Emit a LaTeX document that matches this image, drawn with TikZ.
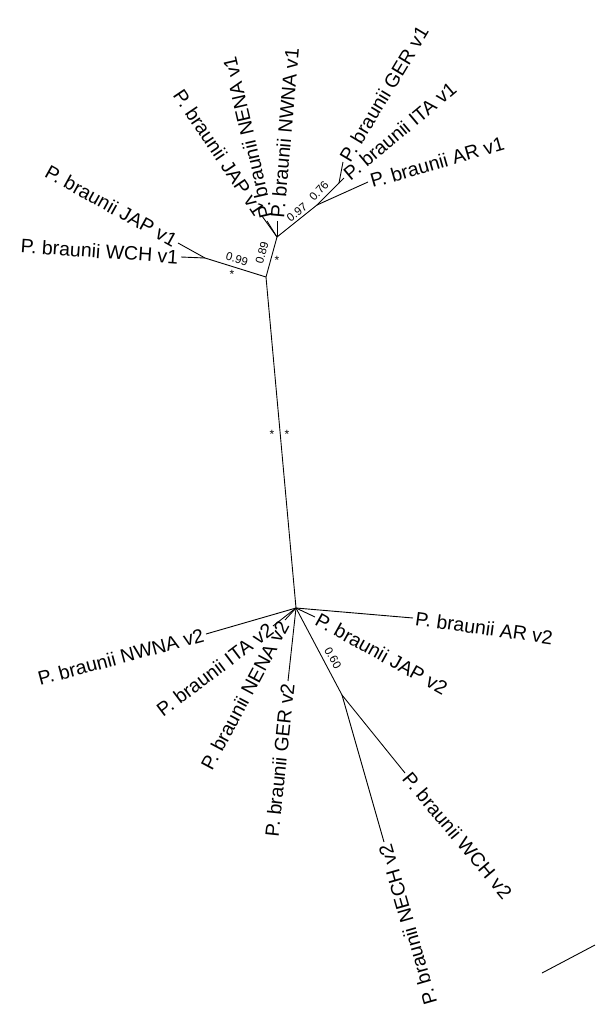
\documentclass[tikz,border=0pt]{standalone}
\usepackage{fontspec}
\setmainfont{Liberation Sans}
\usepackage{tikz}

\tikzset{
  ramo/.style={line width=0.9pt},
  rotulo/.style={font=\fontsize{19.5}{22}\selectfont, inner sep=2.5pt},
  suporte/.style={font=\fontsize{11.5}{13}\selectfont, inner sep=0pt},
  asterisco/.style={font=\fontsize{12}{13}\selectfont, inner sep=0pt}
}

\begin{document}
\begin{tikzpicture}[x=1pt, y=-1pt] %coordenadas em pixels, eixo y para baixo

\useasboundingbox (0,0) rectangle (595,1015);

%----------------------------------------------------
%Posicionar os nós internos da árvore
%----------------------------------------------------
\coordinate (U) at (266,277); %raiz do grupo v1
\coordinate (L) at (296,608); %raiz do grupo v2
\coordinate (A) at (205,258); %JAP v1 + WCH v1
\coordinate (B) at (277,237);
\coordinate (C) at (317,205);
\coordinate (D) at (339,183); %GER v1 + ITA v1
\coordinate (E) at (342,695); %NECH v2 + WCH v2

%----------------------------------------------------
%Pontas dos ramos terminais
%----------------------------------------------------
\coordinate (tJAP1a) at (178,243);
\coordinate (tWCH1) at (181,257);
\coordinate (tJAP1b) at (262,216);
\coordinate (tNENA1) at (267,221);
\coordinate (tNWNA1) at (277,221);
\coordinate (tAR1) at (368,182);
\coordinate (tITA1) at (344,178);
\coordinate (tGER1) at (343,162);
\coordinate (tAR2) at (413,618);
\coordinate (tJAP2) at (315,617);
\coordinate (tWCH2) at (405,773);
\coordinate (tNECH2) at (384,842);
\coordinate (tGER2) at (288,681);
\coordinate (tNENA2) at (285,620);
\coordinate (tITA2) at (273,626);
\coordinate (tNWNA2) at (206,634);

%----------------------------------------------------
%Desenhar os ramos
%----------------------------------------------------
\draw[ramo] (U) -- (L); %ramo central
\draw[ramo] (U) -- (A);
\draw[ramo] (A) -- (tJAP1a);
\draw[ramo] (A) -- (tWCH1);
\draw[ramo] (U) -- (B);
\draw[ramo] (B) -- (tJAP1b);
\draw[ramo] (B) -- (tNENA1);
\draw[ramo] (B) -- (tNWNA1);
\draw[ramo] (B) -- (C);
\draw[ramo] (C) -- (tAR1);
\draw[ramo] (C) -- (D);
\draw[ramo] (D) -- (tITA1);
\draw[ramo] (D) -- (tGER1);

\draw[ramo] (L) -- (tAR2);
\draw[ramo] (L) -- (tJAP2);
\draw[ramo] (L) -- (E);
\draw[ramo] (E) -- (tWCH2);
\draw[ramo] (E) -- (tNECH2);
\draw[ramo] (L) -- (tGER2);
\draw[ramo] (L) -- (tNENA2);
\draw[ramo] (L) -- (tITA2);
\draw[ramo] (L) -- (tNWNA2);

%----------------------------------------------------
%Rótulos dos terminais
%----------------------------------------------------
\node[rotulo, anchor=east, rotate=-29] (JAP1a) at (tJAP1a) {P. braunii JAP v1};
\node[rotulo, anchor=east, rotate=-4] (WCH1) at (tWCH1) {P. braunii WCH v1};
\node[rotulo, anchor=east, rotate=-56] (JAP1b) at (tJAP1b) {P. braunii JAP v1};
\node[rotulo, anchor=west, rotate=103] (NENA1) at (tNENA1) {P. braunii NENA v1};
\node[rotulo, anchor=west, rotate=85] (NWNA1) at (tNWNA1) {P. braunii NWNA v1};
\node[rotulo, anchor=west, rotate=16] (AR1) at (tAR1) {P. braunii AR v1};
\node[rotulo, anchor=west, rotate=40] (ITA1) at (tITA1) {P. braunii ITA v1};
\node[rotulo, anchor=west, rotate=59] (GER1) at (tGER1) {P. braunii GER v1};

\node[rotulo, anchor=west, rotate=-8] (AR2) at (tAR2) {P. braunii AR v2};
\node[rotulo, anchor=west, rotate=-29] (JAP2) at (tJAP2) {P. braunii JAP v2};
\node[rotulo, anchor=west, rotate=-50] (WCH2) at (tWCH2) {P. braunii WCH v2};
\node[rotulo, anchor=east, rotate=106] (NECH2) at (tNECH2) {P. braunii NECH v2};
\node[rotulo, anchor=east, rotate=84] (GER2) at (tGER2) {P. braunii GER v2};
\node[rotulo, anchor=east, rotate=62] (NENA2) at (tNENA2) {P. braunii NENA v2};
\node[rotulo, anchor=east, rotate=37] (ITA2) at (tITA2) {P. braunii ITA v2};
\node[rotulo, anchor=east, rotate=15] (NWNA2) at (tNWNA2) {P. braunii NWNA v2};

%----------------------------------------------------
%Valores de suporte e asteriscos
%----------------------------------------------------
\node[suporte, rotate=-17] (s099) at (237,259) {0.99};
\node[suporte, rotate=75] (s089) at (262,253) {0.89};
\node[suporte, rotate=38] (s097) at (297,212) {0.97};
\node[suporte, rotate=48] (s076) at (319,191) {0.76};
\node[suporte, rotate=-60] (s060) at (333,658) {0.60};

\node[asterisco] (ast1) at (232,274) {*};
\node[asterisco] (ast2) at (277,260) {*};
\node[asterisco] (ast3) at (272,434) {*};
\node[asterisco] (ast4) at (287,434) {*};

%----------------------------------------------------
%Barra de escala (cortada na margem)
%----------------------------------------------------
\coordinate (esc1) at (542,973);
\coordinate (esc2) at (595,945);
\draw[ramo] (esc1) -- (esc2);

\end{tikzpicture}
\end{document}
